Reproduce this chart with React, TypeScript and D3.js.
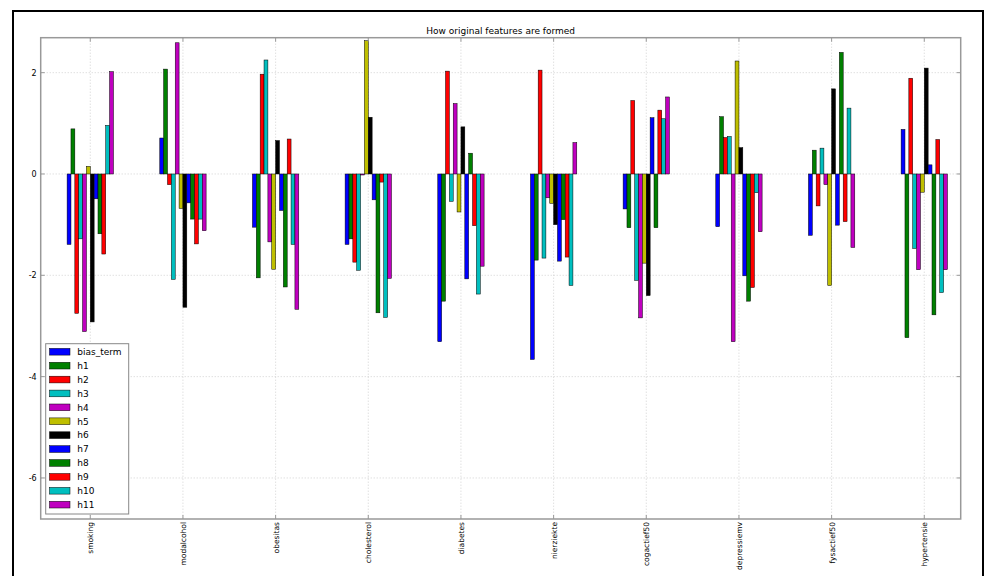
import React, { useEffect, useRef } from "react";
import * as d3 from "d3";

const categories = ["smoking", "modalcohol", "obesitas", "cholesterol", "diabetes", "nierziekte", "cogactief50", "depressiemv", "fysactief50", "hypertensie"];
const seriesNames = ["bias_term", "h1", "h2", "h3", "h4", "h5", "h6", "h7", "h8", "h9", "h10", "h11"];
const seriesColors = ["#0000ff", "#008000", "#ff0000", "#00bfbf", "#bf00bf", "#bfbf00", "#000000", "#0000ff", "#008000", "#ff0000", "#00bfbf", "#bf00bf"];
const yTicks = [2, 0, -2, -4, -6];

// values[series][category]
const bias_term = [-1.39, 0.71, -1.05, -1.39, -3.31, -3.66, -0.69, -1.04, -1.21, 0.88];
const h1 = [0.89, 2.07, -2.05, -1.28, -2.51, -1.70, -1.06, 1.13, 0.47, -3.23];
const h2 = [-2.75, -0.21, 1.97, -1.74, 2.03, 2.05, 1.45, 0.72, -0.63, 1.89];
const h3 = [-1.28, -2.08, 2.25, -1.90, -0.54, -1.66, -2.10, 0.74, 0.51, -1.47];
const h4 = [-3.11, 2.59, -1.34, -0.02, 1.39, -0.47, -2.84, -3.31, -0.21, -1.89];
const h5 = [0.15, -0.68, -1.88, 2.63, -0.75, -0.58, -1.76, 2.23, -2.20, -0.36];
const h6 = [-2.92, -2.63, 0.66, 1.12, 0.93, -1.00, -2.40, 0.52, 1.68, 2.09];
const h7 = [-0.49, -0.57, -0.72, -0.51, -2.07, -1.72, 1.11, -2.01, -1.01, 0.18];
const h8 = [-1.18, -0.89, -2.23, -2.74, 0.41, -0.90, -1.06, -2.51, 2.40, -2.78];
const h9 = [-1.58, -1.38, 0.69, -0.16, -1.02, -1.64, 1.26, -2.24, -0.94, 0.68];
const h10 = [0.96, -0.89, -1.39, -2.83, -2.37, -2.20, 1.09, -0.37, 1.30, -2.34];
const h11 = [2.02, -1.12, -2.67, -2.06, -1.82, 0.62, 1.52, -1.14, -1.45, -1.89];

const seriesValues = [bias_term, h1, h2, h3, h4, h5, h6, h7, h8, h9, h10, h11];

export default function App() {
  const ref = useRef<SVGSVGElement | null>(null);

  useEffect(() => {
    const svg = d3.select(ref.current);
    svg.selectAll("*").remove();
    const W = 995, H = 576;
    const left = 40.7, right = 960.7, top = 37.7, bottom = 519;
    const font = "DejaVu Sans, sans-serif";

    svg.append("rect").attr("width", W).attr("height", H).attr("fill", "#fff");
    // outer frame
    svg.append("rect").attr("x", 13).attr("y", 11).attr("width", 970).attr("height", 580)
      .attr("fill", "none").attr("stroke", "#000").attr("stroke-width", 2);

    const x = d3.scaleLinear().domain([-0.535, 9.393]).range([left, right]);
    const y = d3.scaleLinear().domain([-6.81, 2.69]).range([bottom, top]);

    const g = svg.append("g");
    // grid
    categories.forEach((_, i) => {
      g.append("line").attr("x1", x(i)).attr("x2", x(i)).attr("y1", top).attr("y2", bottom)
        .attr("stroke", "#c8c8c8").attr("stroke-width", 0.8).attr("stroke-dasharray", "1,2");
    });
    yTicks.forEach((t) => {
      g.append("line").attr("x1", left).attr("x2", right).attr("y1", y(t)).attr("y2", y(t))
        .attr("stroke", "#c8c8c8").attr("stroke-width", 0.8).attr("stroke-dasharray", "1,2");
    });

    // bars
    const K = seriesNames.length;
    const bw = 0.5 / K;
    seriesValues.forEach((vals, j) => {
      vals.forEach((v, i) => {
        const x0 = x(i - 0.25 + j * bw);
        const x1 = x(i - 0.25 + (j + 1) * bw);
        g.append("rect")
          .attr("x", x0).attr("width", x1 - x0)
          .attr("y", Math.min(y(v), y(0))).attr("height", Math.abs(y(v) - y(0)))
          .attr("fill", seriesColors[j]).attr("stroke", "#000").attr("stroke-width", 0.5);
      });
    });

    // axes frame
    svg.append("rect").attr("x", left).attr("y", top).attr("width", right - left).attr("height", bottom - top)
      .attr("fill", "none").attr("stroke", "#999").attr("stroke-width", 1.5);

    // ticks
    categories.forEach((c, i) => {
      svg.append("line").attr("x1", x(i)).attr("x2", x(i)).attr("y1", bottom).attr("y2", bottom - 4).attr("stroke", "#999");
      svg.append("line").attr("x1", x(i)).attr("x2", x(i)).attr("y1", top).attr("y2", top + 4).attr("stroke", "#999");
      svg.append("text").attr("transform", `translate(${x(i) + 3},${bottom + 3}) rotate(-90)`)
        .attr("text-anchor", "end").attr("font-family", font).attr("font-size", 7.5).attr("fill", "#000").text(c);
    });
    yTicks.forEach((t) => {
      svg.append("line").attr("x1", left).attr("x2", left + 4).attr("y1", y(t)).attr("y2", y(t)).attr("stroke", "#999");
      svg.append("line").attr("x1", right).attr("x2", right - 4).attr("y1", y(t)).attr("y2", y(t)).attr("stroke", "#999");
      svg.append("text").attr("x", left - 4).attr("y", y(t) + 3).attr("text-anchor", "end")
        .attr("font-family", font).attr("font-size", 8).attr("fill", "#000").text(String(t));
    });

    // title
    svg.append("text").attr("x", (left + right) / 2).attr("y", 34).attr("text-anchor", "middle")
      .attr("font-family", font).attr("font-size", 9).attr("fill", "#000").text("How original features are formed");

    // legend
    const lg = svg.append("g");
    lg.append("rect").attr("x", 45.7).attr("y", 343.7).attr("width", 83).attr("height", 170.3)
      .attr("fill", "#fff").attr("stroke", "#888").attr("stroke-width", 1);
    seriesNames.forEach((n, j) => {
      const cy = 351.7 + j * 13.9;
      lg.append("rect").attr("x", 49.5).attr("y", cy - 3.3).attr("width", 20.5).attr("height", 6.7)
        .attr("fill", seriesColors[j]).attr("stroke", "#000").attr("stroke-width", 0.5);
      lg.append("text").attr("x", 77.3).attr("y", cy + 3.3).attr("font-family", font).attr("font-size", 9)
        .attr("fill", "#000").text(n);
    });
  }, []);

  return (
    <svg ref={ref} width={995} height={576} style={{ position: "absolute", left: 0, top: 0, display: "block" }} />
  );
}
